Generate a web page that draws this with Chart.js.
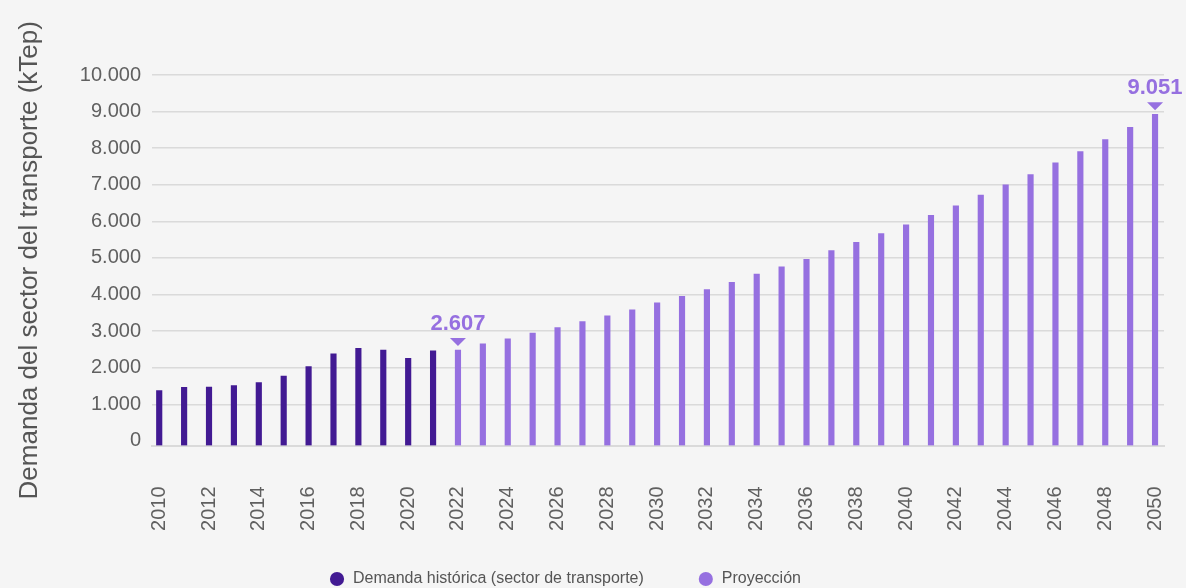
<!DOCTYPE html>
<html lang="es">
<head>
<meta charset="utf-8">
<title>Demanda del sector del transporte</title>
<script src="https://cdn.jsdelivr.net/npm/chart.js@4.4.1/dist/chart.umd.min.js"></script>
<style>
  html, body { margin: 0; padding: 0; background: #f5f5f5; }
  #wrap { width: 1186px; height: 588px; position: relative; }
  canvas { display: block; }
</style>
</head>
<body>
<div id="wrap"><canvas id="chart" width="1186" height="588"></canvas></div>
<script>
// Historical transport-sector demand (kTep)
const historicalYears = [2010, 2011, 2012, 2013, 2014, 2015, 2016, 2017, 2018, 2019, 2020, 2021];
const historicalDemand = [1499, 1589, 1598, 1636, 1718, 1897, 2154, 2508, 2653, 2606, 2380, 2590];

// Projected demand (kTep)
const projectionYears = [2022, 2023, 2024, 2025, 2026, 2027, 2028, 2029, 2030, 2031, 2032, 2033, 2034, 2035,
  2036, 2037, 2038, 2039, 2040, 2041, 2042, 2043, 2044, 2045, 2046, 2047, 2048, 2049, 2050];
const projectionDemand = [2607, 2781, 2917, 3070, 3225, 3389, 3544, 3708, 3899, 4079, 4261, 4460, 4684, 4880,
  5087, 5324, 5551, 5788, 6033, 6287, 6551, 6843, 7124, 7405, 7724, 8032, 8359, 8697, 9051];

// Axis tick labels
const yearTicks = [2010, 2012, 2014, 2016, 2018, 2020, 2022, 2024, 2026, 2028, 2030,
  2032, 2034, 2036, 2038, 2040, 2042, 2044, 2046, 2048, 2050];
const demandTicks = [0, 1000, 2000, 3000, 4000, 5000, 6000, 7000, 8000, 9000, 10000];

// Projected years whose value is called out above the bar
const highlightedYears = [2022, 2050];

const DARK = '#421a93';
const LIGHT = '#9670e0';
const GRID = '#dadada';
const TEXT = '#606060';

const fmt = v => String(Math.round(v)).replace(/\B(?=(\d{3})+(?!\d))/g, '.');

Chart.defaults.font.family = '"Liberation Sans", Arial, Helvetica, sans-serif';

// Value call-outs: number plus a small downward triangle over the bar
const valueCallouts = {
  id: 'valueCallouts',
  afterDatasetsDraw(chart) {
    const meta = chart.getDatasetMeta(1);
    const ctx = chart.ctx;
    ctx.save();
    ctx.fillStyle = LIGHT;
    ctx.font = 'bold 22px "Liberation Sans", Arial, sans-serif';
    ctx.textAlign = 'center';
    ctx.textBaseline = 'alphabetic';
    highlightedYears.forEach(year => {
      const i = projectionYears.indexOf(year);
      const bar = meta.data[i];
      if (!bar) return;
      const tipY = bar.y - 4;
      ctx.beginPath();
      ctx.moveTo(bar.x, tipY);
      ctx.lineTo(bar.x - 8, tipY - 8);
      ctx.lineTo(bar.x + 8, tipY - 8);
      ctx.closePath();
      ctx.fill();
      ctx.fillText(fmt(projectionDemand[i]), bar.x, tipY - 16);
    });
    ctx.restore();
  }
};

// Place the legend row near the bottom edge, under the year labels
const legendPlacement = {
  id: 'legendPlacement',
  afterLayout(chart) {
    const l = chart.legend;
    if (!l) return;
    l.left -= 17; l.right -= 17;
    l.top -= 18.5;
    l.bottom = chart.height;
  }
};

new Chart(document.getElementById('chart'), {
  type: 'bar',
  data: {
    datasets: [
      {
        label: 'Demanda histórica (sector de transporte)',
        data: historicalYears.map((x, i) => ({ x, y: historicalDemand[i] })),
        backgroundColor: DARK,
        barThickness: 5.5,
        grouped: false,
        xAxisID: 'x',
        yAxisID: 'y'
      },
      {
        label: 'Proyección',
        data: projectionYears.map((x, i) => ({ x, y: projectionDemand[i] })),
        backgroundColor: LIGHT,
        barThickness: 5.5,
        grouped: false,
        xAxisID: 'x',
        yAxisID: 'y'
      }
    ]
  },
  options: {
    responsive: false,
    devicePixelRatio: 1,
    animation: false,
    layout: { padding: { top: 75, right: 22, left: 0, bottom: 0 } },
    plugins: {
      tooltip: { enabled: false },
      legend: {
        position: 'bottom',
        maxHeight: 52.5,
        labels: {
          usePointStyle: true,
          pointStyle: 'circle',
          boxWidth: 16,
          boxHeight: 10,
          padding: 54,
          color: '#555555',
          font: { size: 16 }
        }
      }
    },
    scales: {
      x: {
        type: 'linear',
        min: 2009.71,
        max: 2050.36,
        offset: false,
        afterBuildTicks: s => { s.ticks = yearTicks.map(v => ({ value: v })); },
        afterFit: s => { s.height = 90; s.paddingLeft = 0; s.paddingRight = 0; },
        ticks: {
          autoSkip: false,
          minRotation: 90,
          maxRotation: 90,
          padding: 41,
          color: TEXT,
          font: { size: 20 },
          callback: v => String(v)
        },
        grid: { display: false, drawTicks: false },
        border: { display: true, color: GRID, width: 2 }
      },
      y: {
        type: 'linear',
        display: false,
        min: 0,
        max: 10125
      },
      yAxis: {
        type: 'linear',
        position: 'left',
        min: -125,
        max: 10000,
        afterBuildTicks: s => { s.ticks = demandTicks.map(v => ({ value: v })); },
        afterFit: s => { s.width = 152; },
        ticks: {
          padding: 11,
          color: TEXT,
          font: { size: 20 },
          callback: v => fmt(v)
        },
        grid: {
          color: c => (c.tick && c.tick.value === 0) ? 'rgba(0,0,0,0)' : GRID,
          lineWidth: 1.5,
          drawTicks: false
        },
        border: { display: false },
        title: {
          display: true,
          text: 'Demanda del sector del transporte (kTep)',
          color: '#555555',
          font: { size: 26 },
          padding: { top: 14, bottom: 0 }
        }
      }
    }
  },
  plugins: [valueCallouts, legendPlacement]
});
</script>
</body>
</html>
